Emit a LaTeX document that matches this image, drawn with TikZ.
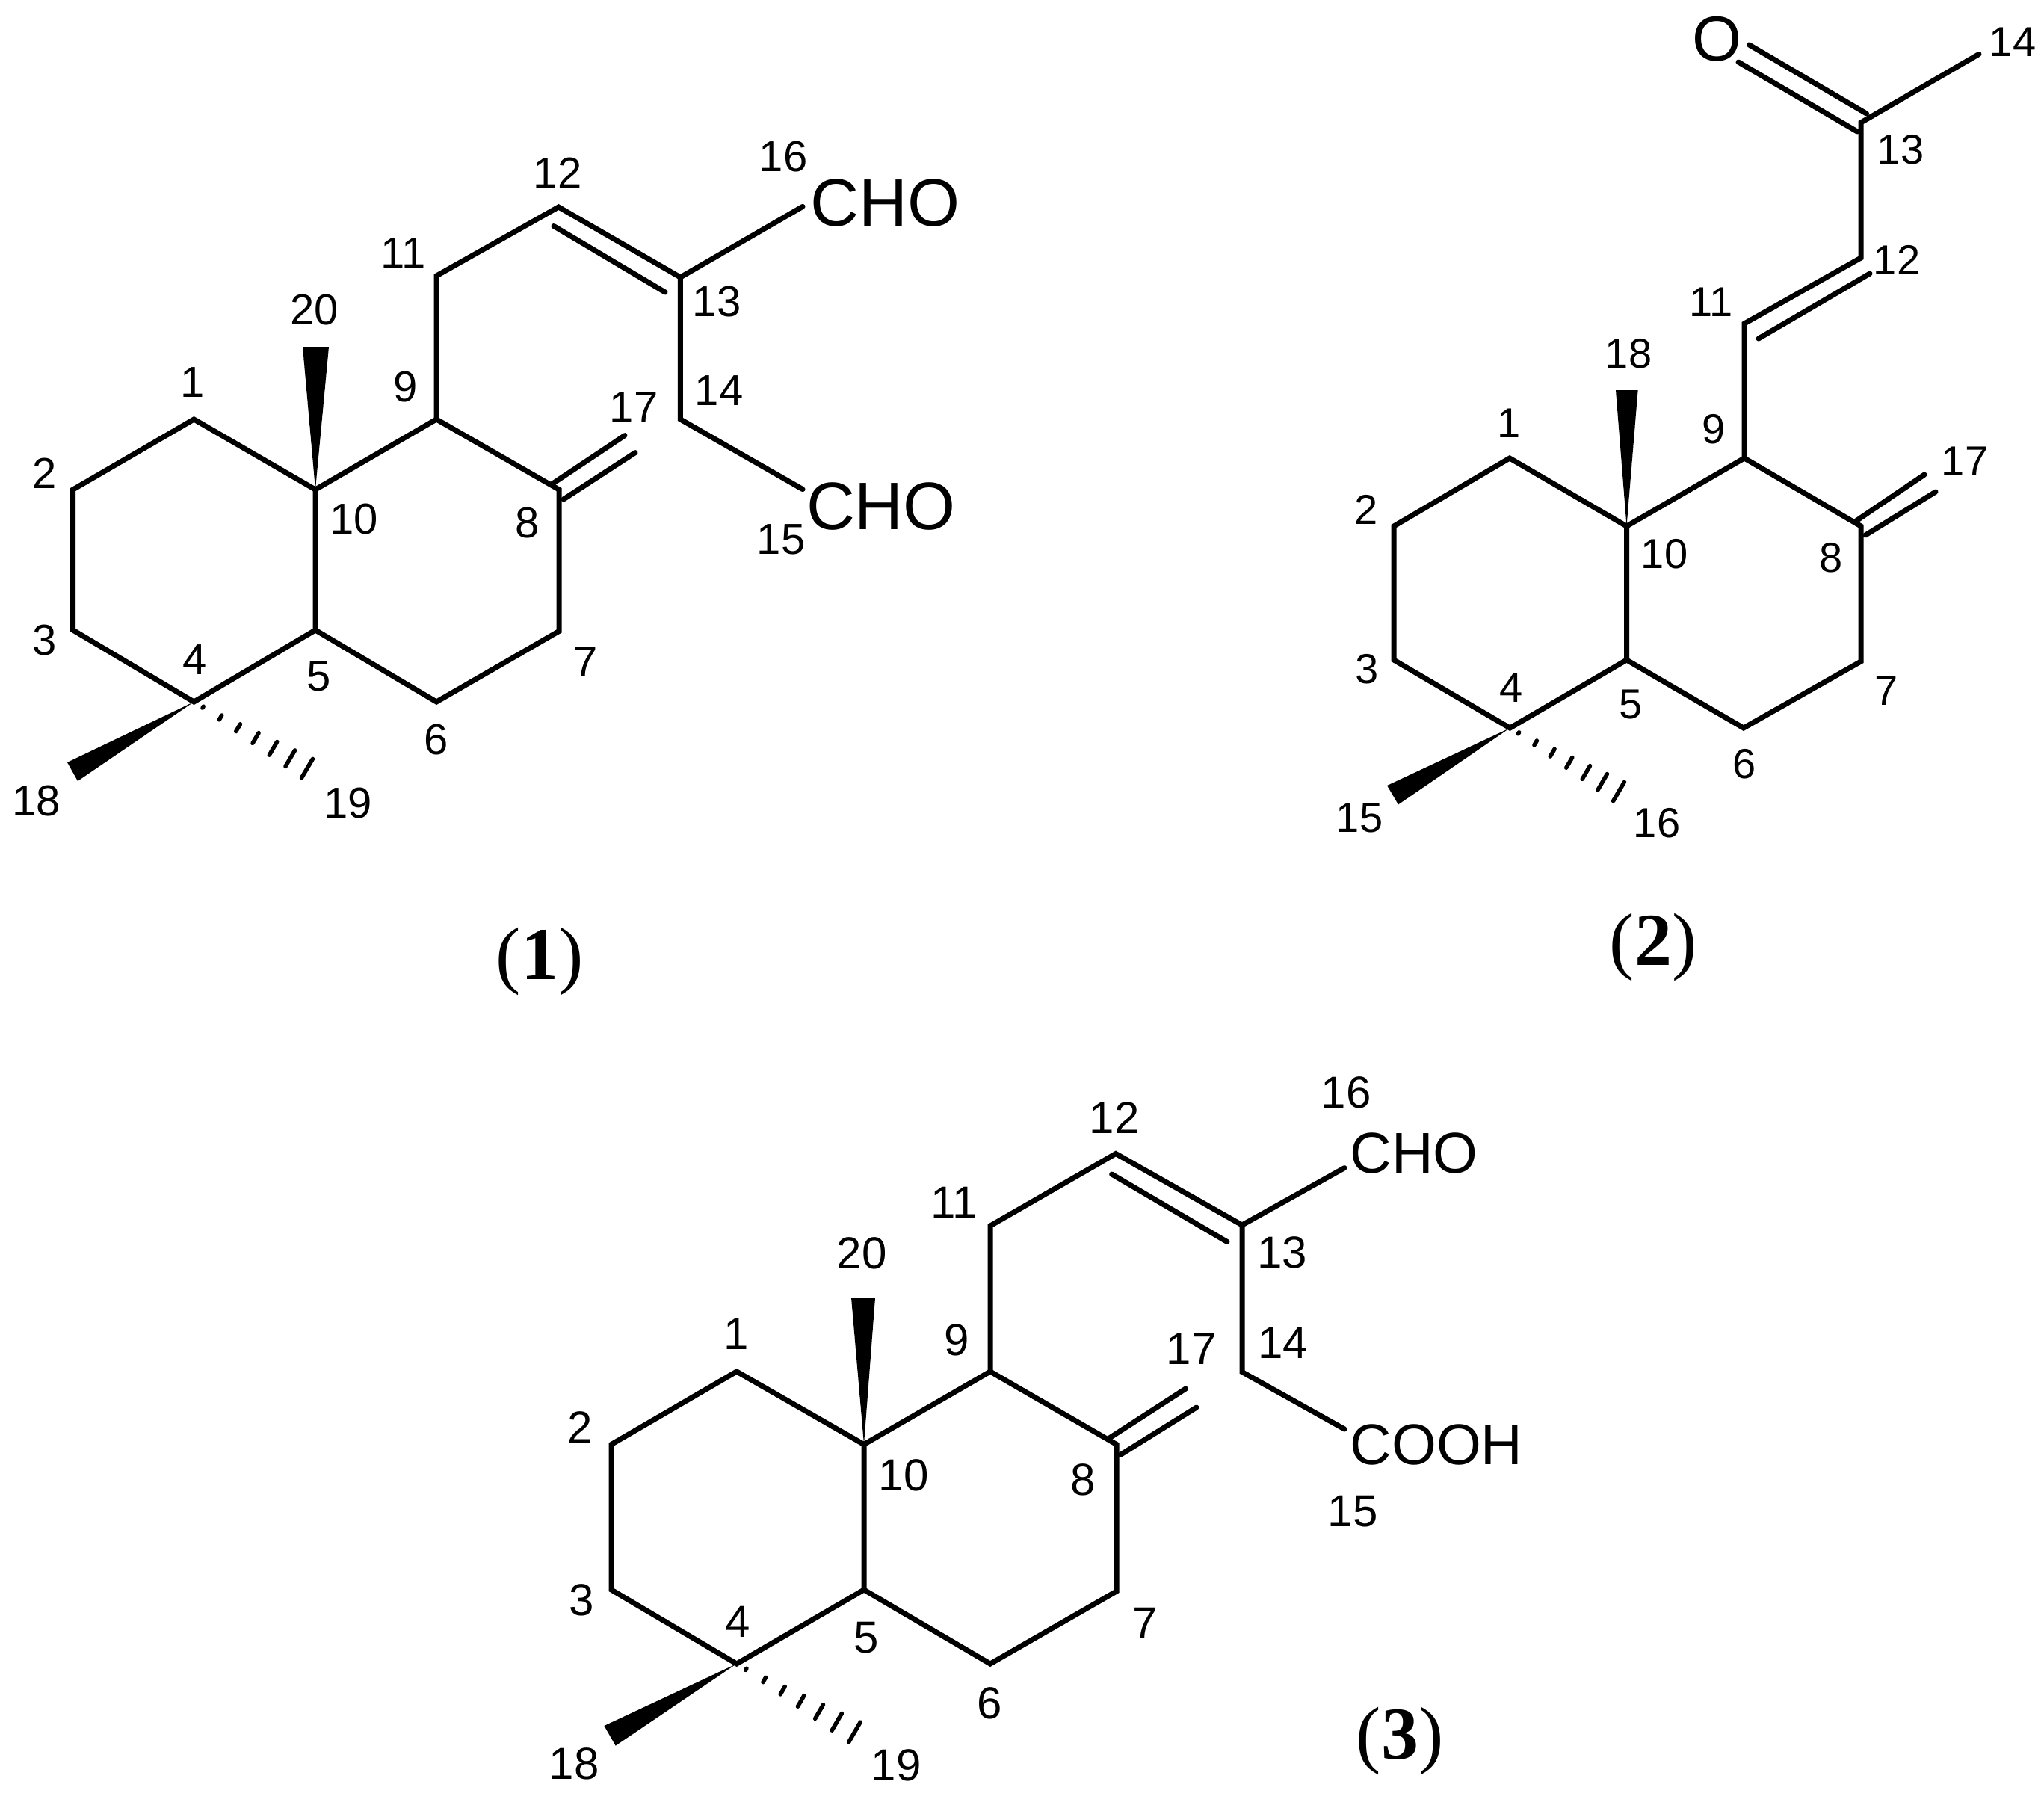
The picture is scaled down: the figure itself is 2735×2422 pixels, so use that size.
\documentclass[tikz,border=0pt]{standalone}
\usepackage{fontspec}
\setmainfont{Liberation Sans}
\newfontfamily\serifnum{Liberation Serif}
\usetikzlibrary{calc}
\newcommand{\hashbond}[3]{%
  \foreach \hf in {0.08,0.235,0.39,0.545,0.70,0.85,1.0} {%
    \pgfmathsetmacro{\hw}{max(1.2,\hf*#3)}%
    \coordinate (hm) at ($(#1)!\hf!(#2)$);
    \draw[hashline] ($(hm)!\hw pt!90:(#1)$) -- ($(hm)!\hw pt!-90:(#1)$);
  }}
\newcommand{\wedgebond}[3]{\fill[black] (#1) -- (#2) -- (#3) -- cycle;}
\tikzset{
  x=1pt,y=-1pt,
  bond/.style={draw=black,line width=7pt,line join=miter,line cap=round},
  inner/.style={draw=black,line width=7pt,line cap=round},
  hashline/.style={draw=black,line width=5.5pt,line cap=round},
  numA/.style={inner sep=0pt,outer sep=0pt,font=\fontsize{58}{58}\selectfont},
  numB/.style={inner sep=0pt,outer sep=0pt,font=\fontsize{56}{56}\selectfont},
  numC/.style={inner sep=0pt,outer sep=0pt,font=\fontsize{60}{60}\selectfont},
  groupA/.style={inner sep=0pt,outer sep=0pt,anchor=base,font=\fontsize{90}{90}\selectfont},
  groupC/.style={inner sep=0pt,outer sep=0pt,anchor=base,font=\fontsize{77}{77}\selectfont},
  caption/.style={inner sep=0pt,outer sep=0pt,anchor=base,font=\fontsize{100}{100}\selectfont\serifnum},
}
\begin{document}
\begin{tikzpicture}
\useasboundingbox (0,0) rectangle (2735,2422);
\fill[white] (0,0) rectangle (2735,2422);

% ---------- compound 1
\coordinate (p1) at (259.5,561);
\coordinate (p2) at (97.6,655);
\coordinate (p3) at (97.6,843);
\coordinate (p4) at (259.5,939);
\coordinate (p5) at (422,843);
\coordinate (p6) at (584,939);
\coordinate (p7) at (748,844.5);
\coordinate (p8) at (748,655);
\coordinate (p9) at (584,561);
\coordinate (p10) at (422,655);
\coordinate (p11) at (584,369);
\coordinate (p12) at (747.4,277);
\coordinate (p13) at (910.4,371);
\coordinate (p14) at (910.4,561);
\coordinate (p15) at (1074,654.6);
\coordinate (p16) at (1074,276.4);
\coordinate (p12i) at (741,302.5);
\coordinate (p13i) at (890,391);
\coordinate (p8a) at (738,648);
\coordinate (p17a) at (836,582.6);
\coordinate (p8b) at (754,668);
\coordinate (p17b) at (850,605.6);
\coordinate (p20l) at (405,464);
\coordinate (p20r) at (440,464);
\coordinate (p18a) at (90,1020);
\coordinate (p18b) at (104,1045);
\coordinate (p19) at (411,1028);
\draw[bond] (p10) -- (p1) -- (p2) -- (p3) -- (p4) -- (p5) -- cycle;
\draw[bond] (p10) -- (p9) -- (p8) -- (p7) -- (p6) -- (p5);
\draw[bond] (p9) -- (p11) -- (p12) -- (p13) -- (p14) -- (p15);
\draw[bond] (p13) -- (p16);
\draw[inner] (p12i) -- (p13i);
\draw[inner] (p8a) -- (p17a);
\draw[inner] (p8b) -- (p17b);
\wedgebond{p10}{p20l}{p20r}
\wedgebond{p4}{p18a}{p18b}
\hashbond{p4}{p19}{14.7}
\node[numA] (pl1) at (258,512) {1};
\node[numA] (pl2) at (60,633) {2};
\node[numA] (pl3) at (60,857) {3};
\node[numA] (pl4) at (261,883) {4};
\node[numA] (pl5) at (426.5,905) {5};
\node[numA] (pl6) at (584,990) {6};
\node[numA] (pl7) at (783.6,886) {7};
\node[numA] (pl8) at (706,700) {8};
\node[numA] (pl9) at (542.5,518) {9};
\node[numA] (pl10) at (474,695) {10};
\node[numA] (pl11) at (540,339) {11};
\node[numA] (pl12) at (746,231) {12};
\node[numA] (pl13) at (959,404) {13};
\node[numA] (pl14) at (962,523) {14};
\node[numA] (pl15) at (1045,721.5) {15};
\node[numA] (pl16) at (1048,210) {16};
\node[numA] (pl17) at (848,545) {17};
\node[numA] (pl18) at (49,1071.6) {18};
\node[numA] (pl19) at (466,1075) {19};
\node[numA] (pl20) at (421,415) {20};
\node[groupA] (pcho1) at (1184.5,302.5) {CHO};
\node[groupA] (pcho2) at (1179,708) {CHO};
\node[caption] (pcap) at (722,1310) {(\textbf{1})};

% ---------- compound 2
\coordinate (q1) at (2020,613);
\coordinate (q2) at (1865,704);
\coordinate (q3) at (1865,883);
\coordinate (q4) at (2020.4,974);
\coordinate (q5) at (2176.5,883);
\coordinate (q6) at (2333,974);
\coordinate (q7) at (2490,885);
\coordinate (q8) at (2490,704);
\coordinate (q9) at (2334,613);
\coordinate (q10) at (2176.5,704);
\coordinate (q11) at (2334,433);
\coordinate (q12) at (2490,345);
\coordinate (q13) at (2490,164);
\coordinate (q14) at (2648,72.4);
\coordinate (q12i) at (2502,366);
\coordinate (q11i) at (2353,453);
\coordinate (q13a) at (2497.5,152);
\coordinate (qOa) at (2340.5,60);
\coordinate (q13b) at (2485,176);
\coordinate (qOb) at (2326,83);
\coordinate (q8a) at (2482,698);
\coordinate (q17a) at (2575,635);
\coordinate (q8b) at (2496,716);
\coordinate (q17b) at (2590,658);
\coordinate (q18l) at (2162,522);
\coordinate (q18r) at (2191.6,522);
\coordinate (q15a) at (1856,1051);
\coordinate (q15b) at (1871,1076.4);
\coordinate (q16) at (2166,1059);
\draw[bond] (q10) -- (q1) -- (q2) -- (q3) -- (q4) -- (q5) -- cycle;
\draw[bond] (q10) -- (q9) -- (q8) -- (q7) -- (q6) -- (q5);
\draw[bond] (q9) -- (q11) -- (q12) -- (q13) -- (q14);
\draw[inner] (q12i) -- (q11i);
\draw[inner] (q13a) -- (qOa);
\draw[inner] (q13b) -- (qOb);
\draw[inner] (q8a) -- (q17a);
\draw[inner] (q8b) -- (q17b);
\wedgebond{q10}{q18l}{q18r}
\wedgebond{q4}{q15a}{q15b}
\hashbond{q4}{q16}{14.7}
\node[numB] (ql1) at (2019,566) {1};
\node[numB] (ql2) at (1828.5,682) {2};
\node[numB] (ql3) at (1829,895) {3};
\node[numB] (ql4) at (2022,920) {4};
\node[numB] (ql5) at (2182,942) {5};
\node[numB] (ql6) at (2334,1022) {6};
\node[numB] (ql7) at (2524,924) {7};
\node[numB] (ql8) at (2450,746) {8};
\node[numB] (ql9) at (2293,574) {9};
\node[numB] (ql10) at (2227,741) {10};
\node[numB] (ql11) at (2290,404) {11};
\node[numB] (ql12) at (2538,348) {12};
\node[numB] (ql13) at (2543,200) {13};
\node[numB] (ql14) at (2693,56) {14};
\node[numB] (ql15) at (1819,1094) {15};
\node[numB] (ql16) at (2217,1101) {16};
\node[numB] (ql17) at (2629,617) {17};
\node[numB] (ql18) at (2179,473.5) {18};
\node[inner sep=0pt,outer sep=0pt,font=\fontsize{85}{85}\selectfont] (qO) at (2298,52) {O};
\node[caption] (qcap) at (2212,1291) {(\textbf{2})};

% ---------- compound 3
\coordinate (r1) at (985.7,1835);
\coordinate (r2) at (818,1932.5);
\coordinate (r3) at (818,2127);
\coordinate (r4) at (985.7,2226);
\coordinate (r5) at (1156,2127);
\coordinate (r6) at (1325,2226);
\coordinate (r7) at (1494,2129);
\coordinate (r8) at (1494,1932.5);
\coordinate (r9) at (1325,1835);
\coordinate (r10) at (1156,1932.5);
\coordinate (r11) at (1325,1640);
\coordinate (r12) at (1493,1543.5);
\coordinate (r13) at (1662,1639);
\coordinate (r14) at (1662,1835.6);
\coordinate (r15) at (1799,1912);
\coordinate (r16) at (1799,1562.6);
\coordinate (r12i) at (1487.6,1571);
\coordinate (r13i) at (1642,1661.5);
\coordinate (r8a) at (1484.4,1924);
\coordinate (r17a) at (1586.5,1858);
\coordinate (r8b) at (1499,1946.5);
\coordinate (r17b) at (1601,1883);
\coordinate (r20l) at (1139,1736);
\coordinate (r20r) at (1171,1736);
\coordinate (r18a) at (808.4,2309);
\coordinate (r18b) at (823.7,2335.6);
\coordinate (r19) at (1143.4,2317.5);
\draw[bond] (r10) -- (r1) -- (r2) -- (r3) -- (r4) -- (r5) -- cycle;
\draw[bond] (r10) -- (r9) -- (r8) -- (r7) -- (r6) -- (r5);
\draw[bond] (r9) -- (r11) -- (r12) -- (r13) -- (r14) -- (r15);
\draw[bond] (r13) -- (r16);
\draw[inner] (r12i) -- (r13i);
\draw[inner] (r8a) -- (r17a);
\draw[inner] (r8b) -- (r17b);
\wedgebond{r10}{r20l}{r20r}
\wedgebond{r4}{r18a}{r18b}
\hashbond{r4}{r19}{15.5}
\node[numC] (rl1) at (985,1785) {1};
\node[numC] (rl2) at (776.5,1910) {2};
\node[numC] (rl3) at (778,2141) {3};
\node[numC] (rl4) at (987,2170) {4};
\node[numC] (rl5) at (1159,2191) {5};
\node[numC] (rl6) at (1324,2279) {6};
\node[numC] (rl7) at (1532,2172) {7};
\node[numC] (rl8) at (1449,1980) {8};
\node[numC] (rl9) at (1280,1793) {9};
\node[numC] (rl10) at (1209,1974) {10};
\node[numC] (rl11) at (1277,1609) {11};
\node[numC] (rl12) at (1491,1496) {12};
\node[numC] (rl13) at (1715.5,1675.5) {13};
\node[numC] (rl14) at (1716.6,1797) {14};
\node[numC] (rl15) at (1810,2022) {15};
\node[numC] (rl16) at (1801,1462) {16};
\node[numC] (rl17) at (1594,1805) {17};
\node[numC] (rl18) at (768,2360) {18};
\node[numC] (rl19) at (1199,2362) {19};
\node[numC] (rl20) at (1153,1677) {20};
\node[groupC] (rcho) at (1892,1569) {CHO};
\node[groupC] (rcooh) at (1922,1959) {COOH};
\node[caption] (rcap) at (1873,2353) {(\textbf{3})};
\end{tikzpicture}
\end{document}
